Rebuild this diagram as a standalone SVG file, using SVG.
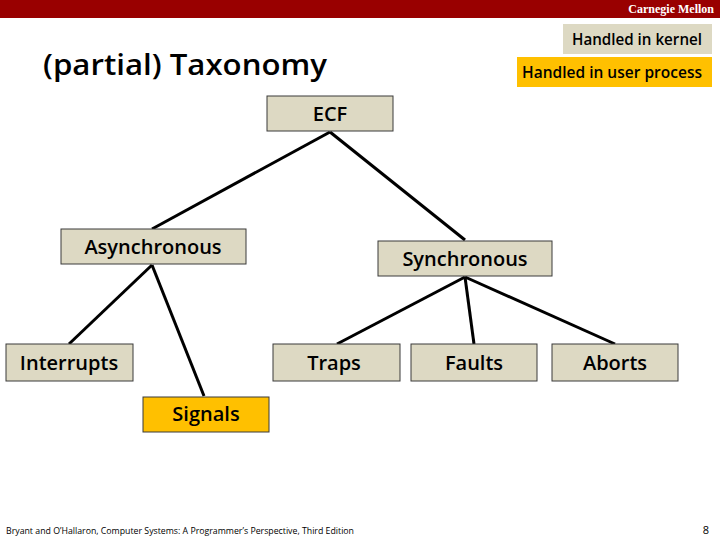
<svg xmlns="http://www.w3.org/2000/svg" width="720" height="540" viewBox="0 0 720 540">
<style>
.box{fill:#ddd9c3;stroke:#3a3a3a;stroke-width:1}
.hot{fill:#ffc000;stroke:#3a3a3a;stroke-width:1}
.lbl{font-family:"Open Sans","Liberation Sans",sans-serif;font-size:20px;fill:#000;text-anchor:middle;font-weight:600}
.leg{font-family:"Open Sans","Liberation Sans",sans-serif;font-size:15.5px;fill:#000;text-anchor:middle;font-weight:600}
.edge{stroke:#000;stroke-width:3;fill:none}
</style>
<rect x="0" y="0" width="720" height="540" fill="#fff"/>
<rect x="0" y="0" width="720" height="18" fill="#990000"/>
<text x="714" y="13" font-family="Liberation Serif,serif" font-size="12" font-weight="bold" fill="#fff" text-anchor="end">Carnegie Mellon</text>
<text x="43" y="75" font-family="Open Sans,Liberation Sans,sans-serif" font-size="28" font-weight="600" fill="#000" textLength="284" lengthAdjust="spacingAndGlyphs">(partial) Taxonomy</text>
<g id="legend-kernel"><rect class="box" x="563" y="24" width="149" height="30" style="stroke:none"/><text class="leg" x="637" y="44.5" textLength="130" lengthAdjust="spacingAndGlyphs">Handled in kernel</text></g>
<g id="legend-user"><rect class="hot" x="517" y="57" width="195" height="30" style="stroke:none"/><text class="leg" x="612" y="77.5" textLength="180" lengthAdjust="spacingAndGlyphs">Handled in user process</text></g>
<g id="connectors">
<line class="edge" x1="330" y1="132" x2="152" y2="229"/>
<line class="edge" x1="330" y1="132" x2="465" y2="240"/>
<line class="edge" x1="152" y1="265" x2="69" y2="344"/>
<line class="edge" x1="152" y1="265" x2="204" y2="396"/>
<line class="edge" x1="465" y1="277" x2="337" y2="344"/>
<line class="edge" x1="465" y1="277" x2="474" y2="344"/>
<line class="edge" x1="465" y1="277" x2="615" y2="344"/>
</g>
<g id="ecf"><rect class="box" x="267" y="96" width="126" height="35"/><text class="lbl" x="330" y="121">ECF</text></g>
<g id="asynchronous"><rect class="box" x="61" y="229" width="185" height="35"/><text class="lbl" x="153" y="254">Asynchronous</text></g>
<g id="synchronous"><rect class="box" x="378" y="241" width="174" height="35"/><text class="lbl" x="465" y="266">Synchronous</text></g>
<g id="interrupts"><rect class="box" x="6" y="344" width="127" height="37"/><text class="lbl" x="69" y="370">Interrupts</text></g>
<g id="traps"><rect class="box" x="273" y="344" width="127" height="37"/><text class="lbl" x="334" y="370">Traps</text></g>
<g id="faults"><rect class="box" x="411" y="344" width="126" height="37"/><text class="lbl" x="474" y="370">Faults</text></g>
<g id="aborts"><rect class="box" x="552" y="344" width="126" height="37"/><text class="lbl" x="615" y="370">Aborts</text></g>
<g id="signals"><rect class="hot" x="143" y="397" width="126" height="35"/><text class="lbl" x="206" y="421">Signals</text></g>
<text x="6" y="534" font-family="Open Sans,Liberation Sans,sans-serif" font-size="9" fill="#000" textLength="348" lengthAdjust="spacingAndGlyphs">Bryant and O’Hallaron, Computer Systems: A Programmer’s Perspective, Third Edition</text>
<text x="709" y="534" font-family="Open Sans,Liberation Sans,sans-serif" font-size="11" fill="#000" text-anchor="end">8</text>
</svg>
